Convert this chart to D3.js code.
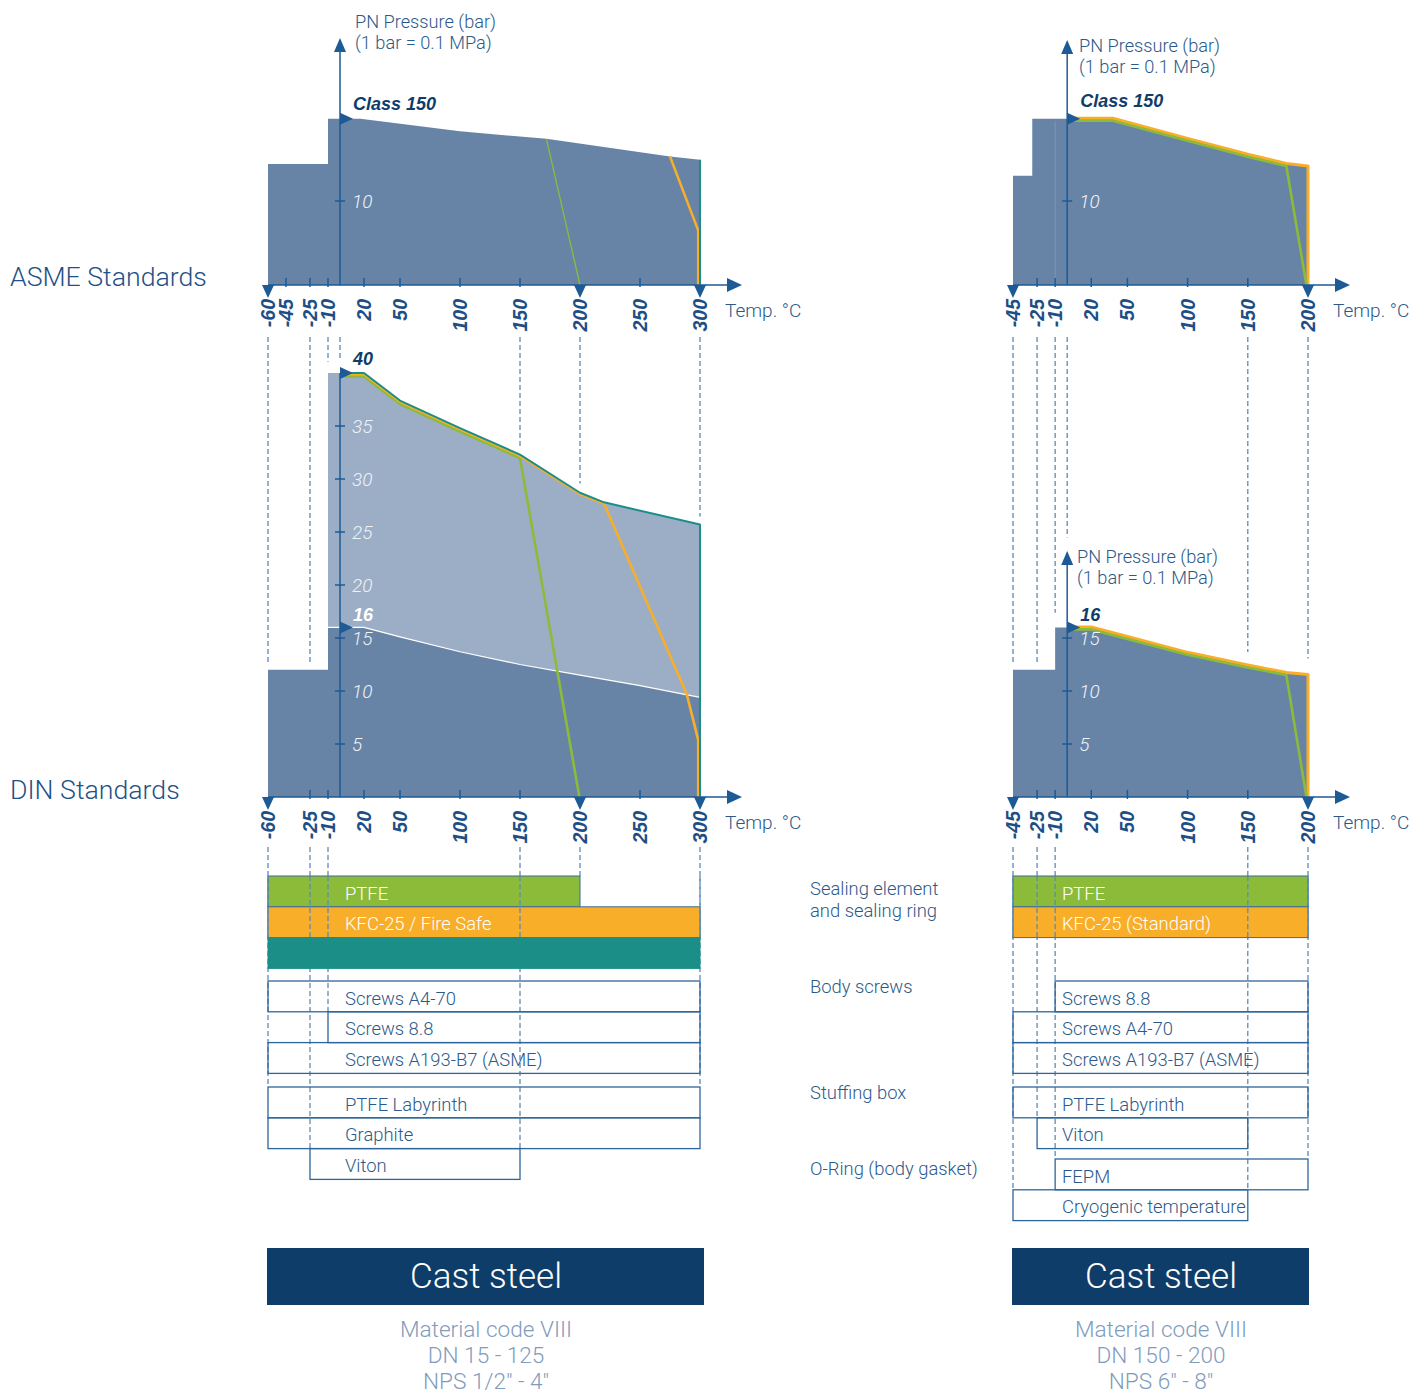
<!DOCTYPE html>
<html>
<head>
<meta charset="utf-8">
<script src="https://cdn.jsdelivr.net/npm/d3@7"></script>
<style>
  body { margin: 0; background: #fff; }
  svg text { font-family: Roboto, "Liberation Sans", sans-serif; font-weight: 300; }
  .bi { font-family: "Liberation Sans", Arial, sans-serif; font-weight: 700; font-style: italic; }
</style>
</head>
<body>
<div id="chart"></div>
<script>
const width = 1425;
const height = 1394;

// ---------- left panel (DN 15 - 125) ----------
const leftAsmeTicks = [-60, -45, -25, -10, 20, 50, 100, 150, 200, 250, 300];
const leftDinTicks = [-60, -25, -10, 20, 50, 100, 150, 200, 250, 300];
const leftArrowTicks = [-60, 200, 300];

const leftAsmeTemp = [-60, -10, -10, 0, 17, 100, 172, 275, 300];
const leftAsmePress = [14.4, 14.4, 19.8, 19.8, 19.8, 18.3, 17.4, 15.3, 14.9];
const leftAsmeGreenTemp = [172, 200];
const leftAsmeGreenPress = [17.4, 0];
const leftAsmeOrangeTemp = [275, 298.5, 298.5];
const leftAsmeOrangePress = [15.3, 6.5, 0];
const leftAsmeTealTemp = [300, 300];
const leftAsmeTealPress = [14.9, 0];

const leftPn16Temp = [-60, -10, -10, 0, 20, 50, 100, 150, 200, 250, 300];
const leftPn16Press = [12, 12, 16, 16, 16, 15.1, 13.7, 12.5, 11.5, 10.5, 9.4];
const leftPn40Temp = [-10, 0, 20, 50, 100, 150, 200, 220, 300];
const leftPn40Press = [40, 40, 40, 37.4, 34.8, 32.3, 28.7, 27.8, 25.7];
const leftDinTealTemp = [0, 20, 50, 100, 150, 200, 220, 300, 300];
const leftDinTealPress = [40, 40, 37.4, 34.8, 32.3, 28.7, 27.8, 25.7, 0];
const leftDinOrangeTemp = [0, 20, 50, 100, 150, 200, 220, 289, 298.5, 298.5];
const leftDinOrangePress = [40, 40, 37.4, 34.8, 32.3, 28.7, 27.8, 9.8, 5.5, 0];
const leftDinGreenTemp = [0, 20, 50, 100, 150, 200];
const leftDinGreenPress = [40, 40, 37.4, 34.8, 32.3, 0];

const leftBarLabels = ["PTFE", "KFC-25 / Fire Safe", "", "Screws A4-70", "Screws 8.8",
  "Screws A193-B7 (ASME)", "PTFE Labyrinth", "Graphite", "Viton"];
const leftBarFrom = [-60, -60, -60, -60, -10, -60, -60, -60, -25];
const leftBarTo = [200, 300, 300, 300, 300, 300, 300, 300, 150];
const leftBarType = ["ptfe", "kfc", "metal", "box", "box", "box", "box", "box", "box"];
const leftBarGroup = [0, 0, 0, 1, 1, 1, 2, 2, 2];
const leftBarIndex = [0, 1, 2, 0, 1, 2, 0, 1, 2];

const leftGuideTemp = [-60, -25, -10, 0, 150, 200, 300];
const leftGuideUpperPress = [12, 12, 40.6, 40.8, 32.6, 29.1, 26];
const leftGuideStopGroup = [2, 2, 1, null, 2, 0, 2];
const leftGuideStopIndex = [0, 2, 1, null, 2, 0, 0];

// ---------- right panel (DN 150 - 200) ----------
const rightTicks = [-45, -25, -10, 20, 50, 100, 150, 200];
const rightArrowTicks = [-45, 200];

const rightAsmeTemp = [-45, -29, -29, 0, 38, 100, 150, 182, 200];
const rightAsmePress = [13, 13, 19.8, 19.8, 19.8, 17.4, 15.5, 14.4, 14.1];
const rightAsmeOrangeTemp = [0, 38, 100, 150, 182, 200, 200];
const rightAsmeOrangePress = [19.8, 19.8, 17.4, 15.5, 14.4, 14.1, 0];
const rightAsmeGreenTemp = [0, 38, 100, 150, 182, 199];
const rightAsmeGreenPress = [19.8, 19.8, 17.4, 15.5, 14.4, 0];

const rightDinTemp = [-45, -10, -10, 0, 20, 50, 100, 150, 182, 200];
const rightDinPress = [12, 12, 16, 16, 16, 15.1, 13.6, 12.4, 11.7, 11.5];
const rightDinOrangeTemp = [0, 20, 50, 100, 150, 182, 200, 200];
const rightDinOrangePress = [16, 16, 15.1, 13.6, 12.4, 11.7, 11.5, 0];
const rightDinGreenTemp = [0, 20, 50, 100, 150, 182, 199];
const rightDinGreenPress = [16, 16, 15.1, 13.6, 12.4, 11.7, 0];

const rightBarLabels = ["PTFE", "KFC-25 (Standard)", "Screws 8.8", "Screws A4-70",
  "Screws A193-B7 (ASME)", "PTFE Labyrinth", "Viton", "FEPM", "Cryogenic temperature"];
const rightBarFrom = [-45, -45, -10, -45, -45, -45, -25, -10, -45];
const rightBarTo = [200, 200, 200, 200, 200, 200, 150, 200, 150];
const rightBarType = ["ptfe", "kfc", "box", "box", "box", "box", "box", "box", "box"];
const rightBarGroup = [0, 0, 1, 1, 1, 2, 2, 3, 3];
const rightBarIndex = [0, 1, 0, 1, 2, 0, 1, 0, 1];

const rightGuideTemp = [-45, -25, -10, 0, 150, 200];
const rightGuideUpperPress = [12, 12, 16.9, 24, 13.2, 12.6];
const rightGuideStopGroup = [3, 2, 3, null, 3, 3];
const rightGuideStopIndex = [1, 1, 0, null, 1, 0];

const asmeYTicks = [10];
const leftDinYTicks = [5, 10, 15, 20, 25, 30, 35];
const rightDinYTicks = [5, 10, 15];

const sectionLabels = ["Sealing element|and sealing ring", "Body screws", "Stuffing box", "O-Ring (body gasket)"];
const leftFooter = ["Material code VIII", "DN 15 - 125", "NPS 1/2\" - 4\""];
const rightFooter = ["Material code VIII", "DN 150 - 200", "NPS 6\" - 8\""];

// ---------- colours ----------
const C = {
  dark: "#6784a7", light: "#9caec6", axis: "#1d5a96", teal: "#1b8f87",
  orange: "#f8ae29", green: "#8cbb3a", navy: "#0f3d69", text: "#2b5a8a",
  sub: "#7f9cbd", dash: "#5b8bb8", tick: "#1d4f86"
};
const FS = 18.4; // body text size

const svg = d3.select("#chart").append("svg")
  .attr("width", width).attr("height", height);

// scales
const xL = d3.scaleLinear().domain([-60, 300]).range([268, 700]);
const xR = d3.scaleLinear().domain([-45, 200]).range([1013, 1308]);
const yAsme = d3.scaleLinear().domain([0, 20]).range([285, 117]);
const yDin = d3.scaleLinear().domain([0, 40]).range([797, 373]);

const groupTop = [876, 981, 1087, 1159];
const rowH = 30.8;
const rowY = (g, i) => groupTop[g] + i * rowH;

function pts(t, p) { return d3.zip(t, p); }

function area(x, y, t, p, fill, stroke) {
  const a = d3.area().x(d => x(d[0])).y0(y(0)).y1(d => y(d[1]));
  svg.append("path").attr("d", a(pts(t, p))).attr("fill", fill);
  if (stroke) {
    const l = d3.line().x(d => x(d[0])).y(d => y(d[1]));
    svg.append("path").attr("d", l(pts(t, p).slice(2))).attr("fill", "none")
      .attr("stroke", stroke).attr("stroke-width", 1.2);
  }
}

function line(x, y, t, p, color, w, dy) {
  const l = d3.line().x(d => x(d[0])).y(d => y(d[1]));
  svg.append("path").attr("d", l(pts(t, p))).attr("fill", "none")
    .attr("stroke", color).attr("stroke-width", w).attr("stroke-linejoin", "round")
    .attr("transform", `translate(0,${dy || 0})`);
}

function tri(cx, cy, dir, s) {
  const p = {
    up: [[cx - s, cy + 2 * s], [cx + s, cy + 2 * s], [cx, cy - 2]],
    down: [[cx - s, cy], [cx + s, cy], [cx, cy + 2 * s + 1]],
    right: [[cx, cy - s], [cx, cy + s], [cx + 2 * s + 1, cy]]
  }[dir];
  svg.append("path").attr("d", "M" + p.join("L") + "Z").attr("fill", C.axis);
}

function xAxis(x, y0, ticks, arrows) {
  const [a, b] = x.range();
  svg.append("line").attr("x1", a).attr("x2", b + 30).attr("y1", y0).attr("y2", y0)
    .attr("stroke", C.axis).attr("stroke-width", 1.5);
  tri(b + 27, y0, "right", 7);
  ticks.forEach(t => {
    if (arrows.includes(t)) tri(x(t), y0, "down", 6);
    else svg.append("line").attr("x1", x(t)).attr("x2", x(t)).attr("y1", y0 - 7).attr("y2", y0 + 2)
      .attr("stroke", C.axis).attr("stroke-width", 1.5);
    svg.append("text").attr("class", "bi")
      .attr("transform", `translate(${x(t) + 7},${y0 + 14}) rotate(-90)`)
      .attr("text-anchor", "end").attr("font-size", 19.5).attr("fill", C.tick).text(t);
  });
  svg.append("text").attr("x", b + 25).attr("y", y0 + 32).attr("font-size", 19)
    .attr("fill", C.text).text("Temp. °C");
}

function yAxis(x0, y, top, ticks, arrowUp) {
  svg.append("line").attr("x1", x0).attr("x2", x0).attr("y1", y(0)).attr("y2", top)
    .attr("stroke", C.axis).attr("stroke-width", 1.5);
  if (arrowUp) tri(x0, top, "up", 6);
  ticks.forEach(v => {
    svg.append("line").attr("x1", x0 - 5).attr("x2", x0 + 5).attr("y1", y(v)).attr("y2", y(v))
      .attr("stroke", C.axis).attr("stroke-width", 1.5);
    svg.append("text").attr("x", x0 + 12).attr("y", y(v) + 7).attr("font-size", 19)
      .attr("font-style", "italic").attr("fill", "#eef3f8").text(v);
  });
}

function pressureLabel(x0, yTop) {
  svg.append("text").attr("x", x0).attr("y", yTop).attr("font-size", 18.2)
    .attr("fill", C.text).text("PN Pressure (bar)");
  svg.append("text").attr("x", x0).attr("y", yTop + 21).attr("font-size", 18.2)
    .attr("fill", C.text).text("(1 bar = 0.1 MPa)");
}

function marker(x0, yv, label, color, dy) {
  tri(x0, yv, "right", 6);
  svg.append("text").attr("class", "bi").attr("x", x0 + 13).attr("y", yv + dy)
    .attr("font-size", 18).attr("fill", color).text(label);
}

// dashed guides (drawn first so the filled charts sit over them)
function guides(x, temps, upperP, stopG, stopI) {
  temps.forEach((t, i) => {
    const g = svg.append("g").attr("stroke", C.dash).attr("stroke-width", 1.3)
      .attr("stroke-dasharray", "5,3");
    g.append("line").attr("x1", x(t)).attr("x2", x(t)).attr("y1", 337).attr("y2", yDin(upperP[i]) - 5);
    if (stopG[i] !== null) {
      g.append("line").attr("x1", x(t)).attr("x2", x(t)).attr("y1", 847)
        .attr("y2", rowY(stopG[i], stopI[i]));
    }
  });
}

// ---------- LEFT PANEL ----------
const x0L = xL(0);
// ASME
area(xL, yAsme, leftAsmeTemp, leftAsmePress, C.dark);
line(xL, yAsme, leftAsmeGreenTemp, leftAsmeGreenPress, C.green, 1.3);
line(xL, yAsme, leftAsmeOrangeTemp, leftAsmeOrangePress, C.orange, 2.5);
line(xL, yAsme, leftAsmeTealTemp, leftAsmeTealPress, C.teal, 2);
yAxis(x0L, yAsme, 40, asmeYTicks, true);
xAxis(xL, yAsme(0), leftAsmeTicks, leftArrowTicks);
pressureLabel(355, 28);
marker(x0L, yAsme(19.8), "Class 150", C.navy, -9);

// DIN
guides(xL, leftGuideTemp, leftGuideUpperPress, leftGuideStopGroup, leftGuideStopIndex);
guides(xR, rightGuideTemp, rightGuideUpperPress, rightGuideStopGroup, rightGuideStopIndex);

area(xL, yDin, leftPn40Temp, leftPn40Press, C.light);
area(xL, yDin, leftPn16Temp, leftPn16Press, C.dark, "#ffffff");
line(xL, yDin, leftDinGreenTemp, leftDinGreenPress, C.green, 2.6, 3.5);
line(xL, yDin, leftDinOrangeTemp, leftDinOrangePress, C.orange, 2.6, 1.2);
line(xL, yDin, leftDinTealTemp, leftDinTealPress, C.teal, 2);
yAxis(x0L, yDin, yDin(40), leftDinYTicks, false);
xAxis(xL, yDin(0), leftDinTicks, leftArrowTicks);
marker(x0L, yDin(40), "40", C.navy, -8);
marker(x0L, yDin(16), "16", "#ffffff", -6);

// ---------- RIGHT PANEL ----------
const x0R = xR(0);
area(xR, yAsme, rightAsmeTemp, rightAsmePress, C.dark);
svg.append("line").attr("x1", xR(-10)).attr("x2", xR(-10)).attr("y1", yAsme(19.5)).attr("y2", yAsme(0))
  .attr("stroke", "#7d95b4").attr("stroke-width", 1);
line(xR, yAsme, rightAsmeOrangeTemp, rightAsmeOrangePress, C.orange, 3, -0.5);
line(xR, yAsme, rightAsmeGreenTemp, rightAsmeGreenPress, C.green, 2.6, 2);
yAxis(x0R, yAsme, 42, asmeYTicks, true);
xAxis(xR, yAsme(0), rightTicks, rightArrowTicks);
pressureLabel(1079, 52);
marker(x0R, yAsme(19.8), "Class 150", C.navy, -12);

area(xR, yDin, rightDinTemp, rightDinPress, C.dark);
line(xR, yDin, rightDinOrangeTemp, rightDinOrangePress, C.orange, 3, -0.5);
line(xR, yDin, rightDinGreenTemp, rightDinGreenPress, C.green, 2.6, 2);
yAxis(x0R, yDin, 553, rightDinYTicks, true);
xAxis(xR, yDin(0), rightTicks, rightArrowTicks);
pressureLabel(1077, 563);
marker(x0R, yDin(16), "16", C.navy, -6);

// ---------- material bars ----------
function bars(x, labels, from, to, type, grp, idx, labelX) {
  labels.forEach((lab, i) => {
    const y = rowY(grp[i], idx[i]);
    const t = type[i];
    const fill = t === "ptfe" ? C.green : t === "kfc" ? C.orange : t === "metal" ? C.teal : "none";
    const stroke = t === "box" ? "#2d669c" : t === "metal" ? C.teal : "#3b6d95";
    svg.append("rect").attr("x", x(from[i])).attr("y", y)
      .attr("width", x(to[i]) - x(from[i])).attr("height", rowH)
      .attr("fill", fill).attr("stroke", stroke).attr("stroke-width", t === "box" ? 1.3 : 1);
    if (lab) svg.append("text").attr("x", labelX).attr("y", y + 23.5).attr("font-size", FS)
      .attr("fill", t === "box" ? C.text : "#ffffff").text(lab);
  });
}
bars(xL, leftBarLabels, leftBarFrom, leftBarTo, leftBarType, leftBarGroup, leftBarIndex, 345);
bars(xR, rightBarLabels, rightBarFrom, rightBarTo, rightBarType, rightBarGroup, rightBarIndex, 1062);

// dashes stay visible over the green / orange bars
function guideOverlay(x, temps, stopG, stopI) {
  temps.forEach((t, i) => {
    if (stopG[i] === null) return;
    svg.append("line").attr("x1", x(t)).attr("x2", x(t))
      .attr("y1", groupTop[0]).attr("y2", Math.min(groupTop[0] + 2 * rowH, rowY(stopG[i], stopI[i])))
      .attr("stroke", C.dash).attr("stroke-width", 1.3).attr("stroke-dasharray", "5,3");
  });
}
guideOverlay(xL, leftGuideTemp, leftGuideStopGroup, leftGuideStopIndex);
guideOverlay(xR, rightGuideTemp, rightGuideStopGroup, rightGuideStopIndex);

// section labels
sectionLabels.forEach((s, i) => {
  const t = svg.append("text").attr("x", 810).attr("y", groupTop[i] + (i === 0 ? 19 : i === 3 ? 16 : 12))
    .attr("font-size", FS).attr("fill", C.text);
  s.split("|").forEach((part, j) => t.append("tspan").attr("x", 810).attr("dy", j ? 22 : 0).text(part));
});

svg.append("text").attr("x", 10).attr("y", 286).attr("font-size", 26.7)
  .attr("fill", "#1f5186").text("ASME Standards");
svg.append("text").attr("x", 10).attr("y", 799).attr("font-size", 26.7)
  .attr("fill", "#1f5186").text("DIN Standards");

// ---------- footers ----------
function footer(x, lines, padR) {
  const [a, b] = x.range();
  const cx = (a + b + padR) / 2;
  svg.append("rect").attr("x", a - 1).attr("y", 1248).attr("width", b - a + 1 + padR).attr("height", 57)
    .attr("fill", C.navy);
  svg.append("text").attr("x", cx).attr("y", 1288).attr("text-anchor", "middle")
    .attr("font-size", 35).attr("fill", "#ffffff").text("Cast steel");
  lines.forEach((l, i) => svg.append("text").attr("x", cx).attr("y", 1337 + i * 26)
    .attr("text-anchor", "middle").attr("font-size", 22.6).attr("fill", C.sub).text(l));
}
footer(xL, leftFooter, 4);
footer(xR, rightFooter, 1);
</script>
</body>
</html>
